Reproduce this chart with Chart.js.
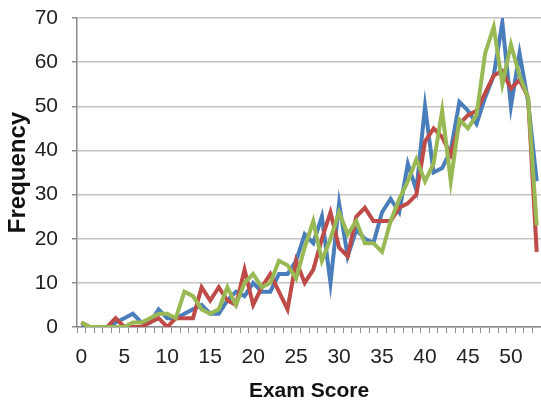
<!DOCTYPE html>
<html>
<head>
<meta charset="utf-8">
<script src="https://cdn.jsdelivr.net/npm/chart.js@4.4.1/dist/chart.umd.min.js"></script>
<style>
  html, body { margin: 0; padding: 0; background: #ffffff; overflow: hidden; }
  #wrap { position: relative; width: 541px; height: 404px; }
</style>
</head>
<body>
<div id="wrap"><canvas id="chart" width="541" height="404"></canvas></div>
<script>
// Exam scores 0..53 (category axis)
const scores = [];
for (let s = 0; s <= 53; s++) scores.push(String(s));

// Frequency of each score, one list per group
const groupBlue = [0, 0, 0, 0, 1, 2, 3, 1, 1, 4, 2, 2, 3, 4, 5, 3, 3, 6, 8, 7,
  10, 8, 8, 12, 12, 15, 21, 19, 25, 10, 28, 16, 22, 20, 19, 26, 29, 26, 37, 31,
  50, 35, 36, 40, 51, 49, 46, 52, 57, 69, 50, 62, 51, 33];
const groupRed = [1, 0, 0, 0, 2, 0, 0, 0, 1, 2, 0, 2, 2, 2, 9, 6, 9, 6, 5, 13,
  5, 9, 12, 8, 4, 15, 10, 13, 20, 26, 18, 16, 25, 27, 24, 24, 24, 27, 28, 30,
  42, 45, 43, 39, 46, 48, 49, 53, 57, 58, 54, 56, 52, 17];
const groupGreen = [1, 0, 0, 0, 0, 0, 1, 1, 2, 3, 3, 2, 8, 7, 4, 3, 4, 9, 5, 10,
  12, 9, 10, 15, 14, 11, 18, 24, 15, 20, 26, 21, 24, 19, 19, 17, 24, 29, 33, 38,
  33, 37, 49, 33, 47, 45, 48, 62, 68, 55, 64, 57, 52, 23];

// Value axis ticks
const yTicks = [0, 10, 20, 30, 40, 50, 60, 70];

const lineStyle = { borderWidth: 4, pointRadius: 0, tension: 0, fill: false };
const fontFamily = 'Liberation Sans, Arial, sans-serif';

new Chart(document.getElementById('chart'), {
  type: 'line',
  data: {
    labels: scores,
    datasets: [
      Object.assign({ label: 'A', data: groupBlue, borderColor: '#4a7ebb', order: 3 }, lineStyle),
      Object.assign({ label: 'B', data: groupRed, borderColor: '#be4b48', order: 2 }, lineStyle),
      Object.assign({ label: 'C', data: groupGreen, borderColor: '#98b954', order: 1 }, lineStyle)
    ]
  },
  options: {
    responsive: false,
    animation: false,
    layout: { autoPadding: false, padding: { left: 0, right: 0, top: 18, bottom: 0 } },
    plugins: { legend: { display: false }, tooltip: { enabled: false } },
    scales: {
      x: {
        type: 'category',
        offset: true,
        grid: {
          offset: true,
          drawOnChartArea: false,
          drawTicks: true,
          tickLength: 6,
          tickColor: '#8c8c8c',
          lineWidth: 1
        },
        border: { color: '#8c8c8c', width: 1.5 },
        ticks: {
          autoSkip: false,
          maxRotation: 0,
          padding: 12,
          color: '#222',
          font: { family: fontFamily, size: 21 },
          callback: function (v) {
            const s = Number(this.getLabelForValue(v));
            return s % 5 === 0 ? String(s) : '';
          }
        },
        title: {
          display: true,
          text: 'Exam Score',
          color: '#111',
          font: { family: fontFamily, size: 21, weight: 'bold' },
          padding: { top: 0, bottom: 0 }
        },
        // fixed axis band; the plot runs right up to the canvas edge
        afterFit: (s) => { s.height = 77; s.paddingLeft = 0; s.paddingRight = 0; }
      },
      y: {
        min: 0,
        max: 70,
        afterBuildTicks: (s) => { s.ticks = yTicks.map(v => ({ value: v })); },
        grid: {
          color: '#c4c4c4',
          lineWidth: 1.5,
          drawTicks: true,
          tickLength: 5,
          tickColor: '#8c8c8c'
        },
        border: { color: '#8c8c8c', width: 1.5 },
        ticks: {
          padding: 14,
          color: '#222',
          font: { family: fontFamily, size: 21 }
        },
        title: {
          display: true,
          text: 'Frequency',
          color: '#111',
          font: { family: fontFamily, size: 24, weight: 'bold' },
          padding: { top: 4, bottom: 0 }
        },
        afterFit: (s) => { s.width = 77; s.paddingTop = 0; s.paddingBottom = 0; }
      }
    }
  }
});
</script>
</body>
</html>
